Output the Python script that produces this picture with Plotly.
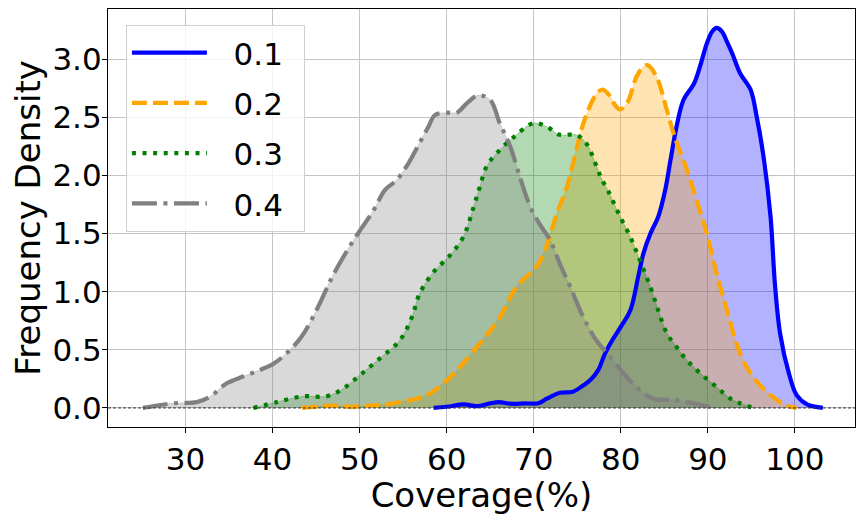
import plotly.graph_objects as go

# KDE curves, one list pair per threshold
x_01 = [58.5, 60, 62, 63.5, 65, 66, 67.5, 69, 70.5, 71.5, 73, 74.5, 75.7, 76.5, 77.4, 78.2, 79,
        80.1, 81.1, 82, 82.6, 83.4, 84.3, 85.1, 85.7, 86.4, 87.2, 88.4, 89.1, 89.9, 90.5, 91,
        91.6, 92.2, 92.8, 93.7, 94.9, 95.6, 96.4, 97.2, 97.7, 98.3, 99.3, 100.2, 101.4, 103.2]
y_01 = [0, 0.01, 0.03, 0.015, 0.04, 0.05, 0.035, 0.04, 0.04, 0.08, 0.13, 0.14, 0.195, 0.24, 0.325,
        0.47, 0.58, 0.71, 0.84, 1.13, 1.33, 1.50, 1.645, 1.875, 2.13, 2.42, 2.65, 2.79, 2.94, 3.14,
        3.24, 3.27, 3.24, 3.15, 3.05, 2.88, 2.74, 2.51, 2.16, 1.645, 1.07, 0.64, 0.30, 0.11, 0.03, 0]

x_02 = [43.4, 45, 47, 49, 51, 53, 54.6, 56, 57.7, 59.6, 61.5, 63.8, 66.1, 68, 70, 70.7, 71.5, 72.6,
        73.8, 74.9, 75.7, 76.85, 77.4, 77.9, 78.8, 79.3, 79.9, 80.7, 81.8, 82.4, 83.06, 84.1, 85.3,
        86.2, 87.6, 88.7, 89.9, 91, 92.2, 93.7, 95.2, 97.2, 99.1, 100.2]
y_02 = [0, 0.01, 0.02, 0.01, 0.02, 0.03, 0.05, 0.07, 0.11, 0.21, 0.35, 0.555, 0.78, 1.04, 1.19, 1.26,
        1.40, 1.66, 1.90, 2.22, 2.45, 2.66, 2.72, 2.74, 2.68, 2.61, 2.57, 2.62, 2.85, 2.92, 2.95, 2.85,
        2.56, 2.33, 2.05, 1.79, 1.50, 1.16, 0.84, 0.47, 0.267, 0.11, 0.02, 0]

x_03 = [37.8, 40.5, 43.5, 46.2, 48, 50, 52.3, 54.6, 56, 56.9, 58.5, 60.4, 61.9, 63.1, 63.8, 64.6,
        66.1, 67.7, 69.95, 71.5, 73, 74.9, 76.1, 77.05, 77.8, 78.6, 79.7, 81.1, 82.2, 83.4, 84.3,
        85.3, 86.4, 87.6, 89.1, 91, 92.6, 93.7, 95.2]
y_03 = [0, 0.05, 0.10, 0.10, 0.16, 0.28, 0.425, 0.58, 0.78, 0.985, 1.17, 1.315, 1.47, 1.73, 1.90,
        2.08, 2.22, 2.33, 2.45, 2.42, 2.35, 2.35, 2.27, 2.11, 1.97, 1.86, 1.68, 1.47, 1.27, 1.04,
        0.84, 0.64, 0.525, 0.41, 0.30, 0.18, 0.08, 0.04, 0]

x_04 = [25.1, 28.6, 31.3, 32.8, 34.7, 36.6, 38.5, 40.1, 41.6, 43.3, 45.1, 46.8, 48.3, 49.8, 51.6,
        52.9, 54.25, 55.4, 56.35, 57.1, 57.9, 58.65, 60, 61.15, 62.3, 63.6, 65, 66.1, 67.3, 68.4,
        69.6, 70.7, 71.9, 73, 74.2, 75.7, 77.2, 78.8, 80.3, 81.8, 83.75, 86, 88.35, 90.8]
y_04 = [0, 0.04, 0.05, 0.095, 0.21, 0.27, 0.325, 0.38, 0.47, 0.61, 0.85, 1.12, 1.32, 1.50, 1.70,
        1.875, 1.96, 2.08, 2.205, 2.31, 2.42, 2.52, 2.54, 2.54, 2.62, 2.69, 2.65, 2.45, 2.25, 1.99,
        1.73, 1.58, 1.44, 1.24, 1.04, 0.78, 0.58, 0.44, 0.30, 0.18, 0.08, 0.07, 0.04, 0]

labels = ["0.1", "0.2", "0.3", "0.4"]
xs = [x_01, x_02, x_03, x_04]
ys = [y_01, y_02, y_03, y_04]
colors = ["0,0,255", "255,165,0", "0,128,0", "128,128,128"]
dashes = ["solid", "15px,6px", "4px,6.6px", "25px,6.5px,4px,6.5px"]

FONT = "DejaVu Sans"

fig = go.Figure()

# fills underneath
for x, y, c in zip(xs, ys, colors):
    fig.add_trace(go.Scatter(x=x, y=y, mode="lines", line=dict(color=f"rgba({c},0.3)", width=1, shape="spline"),
                             fill="tozeroy", fillcolor=f"rgba({c},0.3)", showlegend=False, hoverinfo="skip"))

# curves on top
for x, y, c, d, lab in zip(xs, ys, colors, dashes, labels):
    fig.add_trace(go.Scatter(x=x, y=y, mode="lines", name="\u2002\u2009" + lab + "\u2002", legendgroup=lab,
                             line=dict(color=f"rgb({c})", width=4.2, dash=d, shape="spline")))

fig.add_shape(type="line", xref="paper", yref="y", x0=0, x1=1, y0=0, y1=0,
              line=dict(color="#333333", width=1, dash="3px,2px"))

axis_common = dict(showline=True, linecolor="black", linewidth=1.2, mirror=True,
                   showgrid=True, gridcolor="#c4c4c4", gridwidth=1, zeroline=False,
                   ticks="outside", ticklen=5, tickcolor="black",
                   tickfont=dict(family=FONT, size=31, color="black"))

fig.update_xaxes(range=[21.1, 106.9], tickvals=[30, 40, 50, 60, 70, 80, 90, 100],
                 title=dict(text="Coverage(%)", font=dict(family=FONT, size=34, color="black"), standoff=0),
                 **axis_common)
fig.update_yaxes(range=[-0.164, 3.433], tickvals=[0, 0.5, 1, 1.5, 2, 2.5, 3], tickformat=".1f",
                 ticklabelstandoff=-6,
                 title=dict(text="Frequency Density", font=dict(family=FONT, size=34, color="black"), standoff=1),
                 **axis_common)

# page body has an 8px margin, so the figure is 8px smaller and margins shifted
fig.update_layout(
    width=856, height=507,
    margin=dict(l=100, r=9, t=1, b=88, autoexpand=False),
    paper_bgcolor="white", plot_bgcolor="white",
    font=dict(family=FONT, color="black"),
    legend=dict(x=0.024, y=0.962, xanchor="left", yanchor="top",
                bgcolor="rgba(255,255,255,0.8)", bordercolor="#d0d0d0", borderwidth=1,
                font=dict(family=FONT, size=31, color="black"),
                traceorder="grouped", tracegroupgap=7, itemwidth=75),
)

fig.write_html("out.html")
